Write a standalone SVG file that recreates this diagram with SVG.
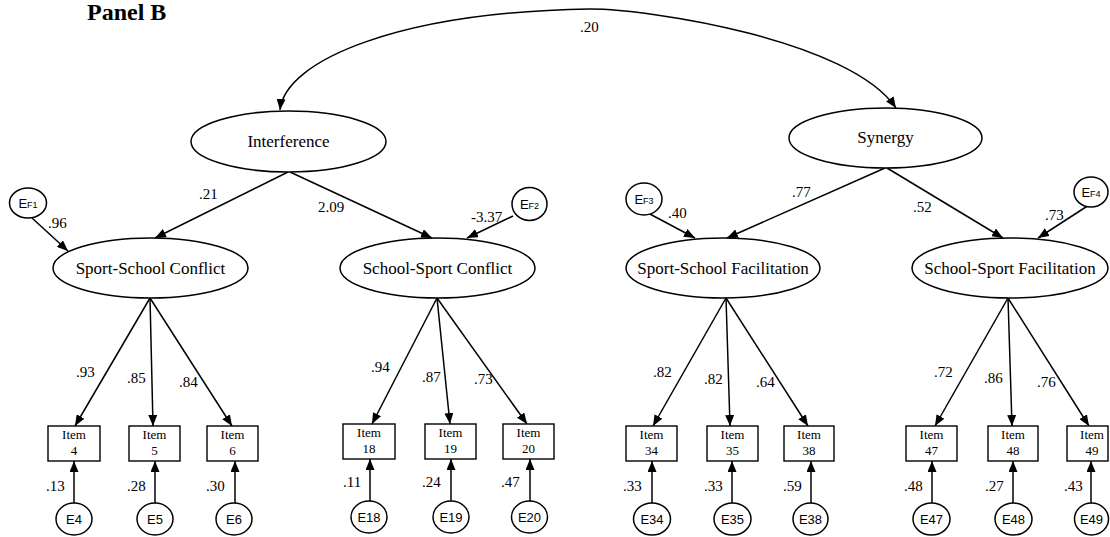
<svg xmlns="http://www.w3.org/2000/svg" width="1110" height="537" viewBox="0 0 1110 537">
<defs>
<marker id="ah" markerUnits="userSpaceOnUse" markerWidth="11" markerHeight="9" refX="11" refY="4.5" orient="auto-start-reverse"><path d="M0,0 L11,4.5 L0,9 z" fill="#000"/></marker>
<style>
.bg{fill:#fff}
.lat{fill:#fff;stroke:#000;stroke-width:1.5}
.box{fill:#fff;stroke:#000;stroke-width:1.4}
.err{fill:#fff;stroke:#000;stroke-width:1.5}
.ln{fill:none;stroke:#000;stroke-width:1.5;marker-end:url(#ah)}
.cov{fill:none;stroke:#000;stroke-width:1.5;marker-start:url(#ah);marker-end:url(#ah)}
.lt{font-family:"Liberation Serif","Times New Roman",serif;font-size:17px;fill:#000;text-anchor:middle}
.nm{font-family:"Liberation Serif","Times New Roman",serif;font-size:15px;fill:#000}
.it{font-family:"Liberation Serif","Times New Roman",serif;font-size:13px;fill:#000;text-anchor:middle}
.et{font-family:"Liberation Sans",Arial,sans-serif;font-size:13px;fill:#000;text-anchor:middle}
.sb{font-size:9px}
.title{font-family:"Liberation Serif","Times New Roman",serif;font-size:24px;font-weight:bold;fill:#000}
</style>
</defs>
<rect class="bg" x="0" y="0" width="1110" height="537"/>
<text class="title" x="87" y="20">Panel B</text>

<g id="connectors">
<path class="cov" d="M280,110 C285,60 400,12 590,9 C650,9 850,40 896,108"/>
<line class="ln" x1="288" y1="172" x2="155" y2="238"/>
<line class="ln" x1="290" y1="172" x2="432" y2="238"/>
<line class="ln" x1="32" y1="218" x2="68" y2="251"/>
<line class="ln" x1="513" y1="216" x2="467" y2="238"/>
<line class="ln" x1="885" y1="168" x2="727" y2="238"/>
<line class="ln" x1="887" y1="168" x2="1003" y2="238"/>
<line class="ln" x1="648" y1="213" x2="695" y2="238"/>
<line class="ln" x1="1089" y1="205" x2="1038" y2="238"/>

<line class="ln" x1="150" y1="298" x2="75" y2="426"/>
<line class="ln" x1="150" y1="298" x2="153" y2="426"/>
<line class="ln" x1="150" y1="298" x2="232" y2="426"/>
<line class="ln" x1="437" y1="298" x2="372" y2="424"/>
<line class="ln" x1="437" y1="298" x2="450" y2="424"/>
<line class="ln" x1="437" y1="298" x2="527" y2="424"/>
<line class="ln" x1="726" y1="298" x2="653" y2="426"/>
<line class="ln" x1="726" y1="298" x2="730" y2="426"/>
<line class="ln" x1="726" y1="298" x2="808" y2="426"/>
<line class="ln" x1="1008" y1="298" x2="935" y2="426"/>
<line class="ln" x1="1008" y1="298" x2="1012" y2="426"/>
<line class="ln" x1="1008" y1="298" x2="1089" y2="426"/>

<line class="ln" x1="74" y1="503" x2="74" y2="461"/>
<line class="ln" x1="155" y1="503" x2="155" y2="461"/>
<line class="ln" x1="235" y1="503" x2="235" y2="461"/>
<line class="ln" x1="370" y1="501" x2="370" y2="459"/>
<line class="ln" x1="451" y1="501" x2="451" y2="459"/>
<line class="ln" x1="530" y1="501" x2="530" y2="459"/>
<line class="ln" x1="652" y1="503" x2="652" y2="461"/>
<line class="ln" x1="732" y1="503" x2="732" y2="461"/>
<line class="ln" x1="811" y1="503" x2="811" y2="461"/>
<line class="ln" x1="932" y1="503" x2="932" y2="461"/>
<line class="ln" x1="1013" y1="503" x2="1013" y2="461"/>
<line class="ln" x1="1091" y1="503" x2="1091" y2="461"/>

<text class="nm" x="580" y="32">.20</text>
<text class="nm" x="199" y="199">.21</text>
<text class="nm" x="318" y="212">2.09</text>
<text class="nm" x="48" y="228">.96</text>
<text class="nm" x="471" y="222">-3.37</text>
<text class="nm" x="792" y="197">.77</text>
<text class="nm" x="913" y="212">.52</text>
<text class="nm" x="668" y="218">.40</text>
<text class="nm" x="1045" y="220">.73</text>

<text class="nm" x="76" y="377">.93</text>
<text class="nm" x="127" y="383">.85</text>
<text class="nm" x="179" y="387">.84</text>
<text class="nm" x="371" y="372">.94</text>
<text class="nm" x="422" y="382">.87</text>
<text class="nm" x="474" y="384">.73</text>
<text class="nm" x="653" y="377">.82</text>
<text class="nm" x="704" y="384">.82</text>
<text class="nm" x="756" y="387">.64</text>
<text class="nm" x="934" y="377">.72</text>
<text class="nm" x="984" y="383">.86</text>
<text class="nm" x="1037" y="387">.76</text>

<text class="nm" x="46" y="491">.13</text>
<text class="nm" x="127" y="491">.28</text>
<text class="nm" x="206" y="491">.30</text>
<text class="nm" x="343" y="487">.11</text>
<text class="nm" x="422" y="487">.24</text>
<text class="nm" x="501" y="487">.47</text>
<text class="nm" x="623" y="491">.33</text>
<text class="nm" x="704" y="491">.33</text>
<text class="nm" x="783" y="491">.59</text>
<text class="nm" x="904" y="491">.48</text>
<text class="nm" x="985" y="491">.27</text>
<text class="nm" x="1064" y="491">.43</text>
</g>

<g id="interference"><ellipse class="lat" cx="288.5" cy="141.5" rx="97.5" ry="30.5"/><text class="lt" x="288.5" y="147">Interference</text></g>
<g id="synergy"><ellipse class="lat" cx="885.5" cy="138" rx="96.5" ry="30"/><text class="lt" x="885.5" y="143">Synergy</text></g>

<g id="ssc"><ellipse class="lat" cx="150.5" cy="268" rx="97.5" ry="30"/><text class="lt" x="150.5" y="273.5">Sport-School Conflict</text></g>
<g id="schsc"><ellipse class="lat" cx="437.5" cy="268" rx="97.5" ry="30"/><text class="lt" x="437.5" y="273.5">School-Sport Conflict</text></g>
<g id="ssf"><ellipse class="lat" cx="723" cy="268" rx="97" ry="30"/><text class="lt" x="723" y="273.5">Sport-School Facilitation</text></g>
<g id="schsf"><ellipse class="lat" cx="1010" cy="268" rx="98" ry="30"/><text class="lt" x="1010" y="273.5">School-Sport Facilitation</text></g>

<g id="ef1"><ellipse class="err" cx="28" cy="203" rx="18.5" ry="15"/><text class="et" x="28" y="207.5">E<tspan class="sb">F1</tspan></text></g>
<g id="ef2"><ellipse class="err" cx="529.5" cy="204" rx="17.5" ry="16.5"/><text class="et" x="529.5" y="208.5">E<tspan class="sb">F2</tspan></text></g>
<g id="ef3"><ellipse class="err" cx="644" cy="199" rx="18" ry="16"/><text class="et" x="644" y="203.5">E<tspan class="sb">F3</tspan></text></g>
<g id="ef4"><ellipse class="err" cx="1091" cy="192" rx="17" ry="15"/><text class="et" x="1091" y="196.5">E<tspan class="sb">F4</tspan></text></g>

<g id="item4"><rect class="box" x="48" y="426" width="52" height="35"/><text class="it" x="74" y="439">Item</text><text class="it" x="74" y="455">4</text></g>
<g id="item5"><rect class="box" x="129" y="426" width="51" height="35"/><text class="it" x="154.5" y="439">Item</text><text class="it" x="154.5" y="455">5</text></g>
<g id="item6"><rect class="box" x="207" y="426" width="51" height="35"/><text class="it" x="232.5" y="439">Item</text><text class="it" x="232.5" y="455">6</text></g>
<g id="item18"><rect class="box" x="343" y="424" width="52" height="35"/><text class="it" x="369" y="437">Item</text><text class="it" x="369" y="453">18</text></g>
<g id="item19"><rect class="box" x="425" y="424" width="51" height="35"/><text class="it" x="450.5" y="437">Item</text><text class="it" x="450.5" y="453">19</text></g>
<g id="item20"><rect class="box" x="503" y="424" width="51" height="35"/><text class="it" x="528.5" y="437">Item</text><text class="it" x="528.5" y="453">20</text></g>
<g id="item34"><rect class="box" x="626" y="426" width="51" height="35"/><text class="it" x="651.5" y="439">Item</text><text class="it" x="651.5" y="455">34</text></g>
<g id="item35"><rect class="box" x="707" y="426" width="51" height="35"/><text class="it" x="732.5" y="439">Item</text><text class="it" x="732.5" y="455">35</text></g>
<g id="item38"><rect class="box" x="784" y="426" width="50" height="35"/><text class="it" x="809" y="439">Item</text><text class="it" x="809" y="455">38</text></g>
<g id="item47"><rect class="box" x="906" y="426" width="51" height="35"/><text class="it" x="931.5" y="439">Item</text><text class="it" x="931.5" y="455">47</text></g>
<g id="item48"><rect class="box" x="988" y="426" width="50" height="35"/><text class="it" x="1013" y="439">Item</text><text class="it" x="1013" y="455">48</text></g>
<g id="item49"><rect class="box" x="1067" y="426" width="41" height="35"/><text class="it" x="1092" y="439">Item</text><text class="it" x="1092" y="455">49</text></g>

<g id="e4"><ellipse class="err" cx="74" cy="519" rx="18" ry="16"/><text class="et" x="74" y="523.5">E4</text></g>
<g id="e5"><ellipse class="err" cx="155" cy="519" rx="18" ry="16"/><text class="et" x="155" y="523.5">E5</text></g>
<g id="e6"><ellipse class="err" cx="234" cy="519" rx="18" ry="16"/><text class="et" x="234" y="523.5">E6</text></g>
<g id="e18"><ellipse class="err" cx="369" cy="517" rx="18" ry="16"/><text class="et" x="369" y="521.5">E18</text></g>
<g id="e19"><ellipse class="err" cx="451" cy="517" rx="18" ry="16"/><text class="et" x="451" y="521.5">E19</text></g>
<g id="e20"><ellipse class="err" cx="529.5" cy="517" rx="18" ry="16"/><text class="et" x="529.5" y="521.5">E20</text></g>
<g id="e34"><ellipse class="err" cx="652" cy="519" rx="18.5" ry="16"/><text class="et" x="652" y="523.5">E34</text></g>
<g id="e35"><ellipse class="err" cx="732.5" cy="519" rx="18.5" ry="16"/><text class="et" x="732.5" y="523.5">E35</text></g>
<g id="e38"><ellipse class="err" cx="810.5" cy="519" rx="17.5" ry="16"/><text class="et" x="810.5" y="523.5">E38</text></g>
<g id="e47"><ellipse class="err" cx="931.5" cy="519" rx="18.5" ry="16"/><text class="et" x="931.5" y="523.5">E47</text></g>
<g id="e48"><ellipse class="err" cx="1013.5" cy="519" rx="18.5" ry="16"/><text class="et" x="1013.5" y="523.5">E48</text></g>
<g id="e49"><ellipse class="err" cx="1091.5" cy="519" rx="17" ry="16"/><text class="et" x="1091.5" y="523.5">E49</text></g>
</svg>
